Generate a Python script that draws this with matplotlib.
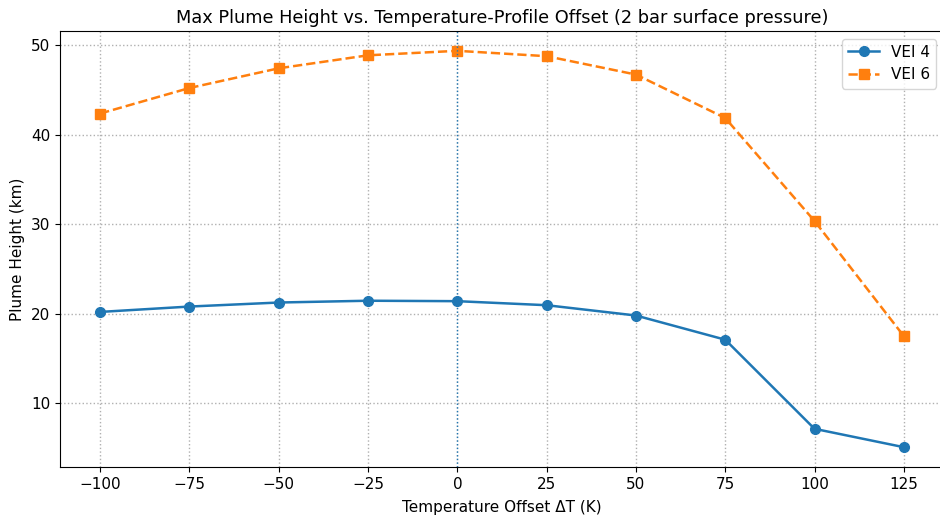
import matplotlib
matplotlib.use('Agg')
import matplotlib.pyplot as plt

# Temperature offsets (K) and max plume heights (km)
dT = [-100, -75, -50, -25, 0, 25, 50, 75, 100, 125]
vei4 = [20.2, 20.8, 21.25, 21.45, 21.4, 20.95, 19.8, 17.1, 7.15, 5.1]
vei6 = [42.35, 45.2, 47.4, 48.85, 49.35, 48.75, 46.7, 41.85, 30.35, 17.5]

fig = plt.figure(figsize=(9.4, 5.15), dpi=100)
ax = fig.add_axes([60 / 940, 48 / 515, 884 / 940, 436 / 515])

ax.plot(dT, vei4, marker='o', linestyle='-', color='#1f77b4', markersize=7, linewidth=1.8, label='VEI 4')
ax.plot(dT, vei6, marker='s', linestyle='--', color='#ff7f0e', markersize=7, linewidth=1.8, label='VEI 6')

# reference line at zero offset
ax.axvline(0, color='#1f77b4', linestyle=':', linewidth=1)

ax.set_xticks([-100, -75, -50, -25, 0, 25, 50, 75, 100, 125])
ax.set_xticklabels(['\u2212100', '\u221275', '\u221250', '\u221225', '0', '25', '50', '75', '100', '125'])
ax.set_yticks([10, 20, 30, 40, 50])
ax.tick_params(labelsize=11)

ax.grid(True, linestyle=':', color='#b0b0b0', linewidth=1)
ax.set_xlabel('Temperature Offset \u0394T (K)', fontsize=11, labelpad=6)
ax.set_ylabel('Plume Height (km)', fontsize=11)
ax.set_title('Max Plume Height vs. Temperature-Profile Offset (2 bar surface pressure)', fontsize=12.8)
ax.legend(loc='upper right', fontsize=11)

fig.savefig('out.png', dpi=100)
